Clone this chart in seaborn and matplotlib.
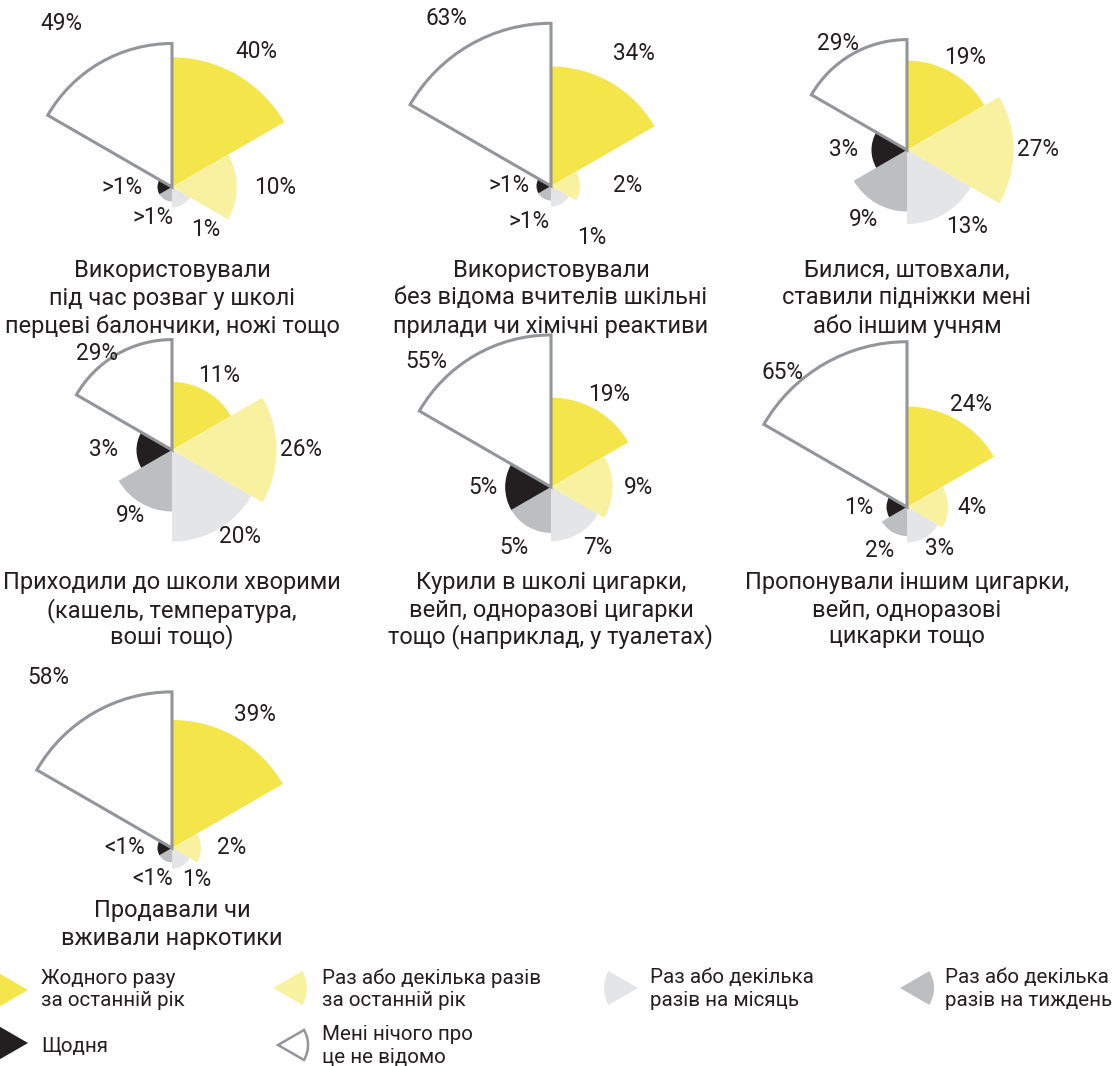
import numpy as np
import pandas as pd
import matplotlib
matplotlib.use("Agg")
import matplotlib.pyplot as plt
from matplotlib.patches import Wedge
import seaborn as sns

# ---------------- data ----------------
categories = [
    "Жодного разу за останній рік",
    "Раз або декілька разів за останній рік",
    "Раз або декілька разів на місяць",
    "Раз або декілька разів на тиждень",
    "Щодня",
    "Мені нічого про це не відомо",
]
legend_lines = [
    ["Жодного разу", "за останній рік"],
    ["Раз або декілька разів", "за останній рік"],
    ["Раз або декілька", "разів на місяць"],
    ["Раз або декілька", "разів на тиждень"],
    ["Щодня"],
    ["Мені нічого про", "це не відомо"],
]
colors = ["#F4E64A", "#F8F2A0", "#E4E5E6", "#BDBEC0", "#231F20", "#FFFFFF"]

titles = [
    ["Використовували", "під час розваг у школі", "перцеві балончики, ножі тощо"],
    ["Використовували", "без відома вчителів шкільні", "прилади чи хімічні реактиви"],
    ["Билися, штовхали,", "ставили підніжки мені", "або іншим учням"],
    ["Приходили до школи хворими", "(кашель, температура,", "воші тощо)"],
    ["Курили в школі цигарки,", "вейп, одноразові цигарки", "тощо (наприклад, у туалетах)"],
    ["Пропонували іншим цигарки,", "вейп, одноразові", "цикарки тощо"],
    ["Продавали чи", "вживали наркотики"],
]

values_1 = [40, 10, 1, 0.5, 0.5, 49]
values_2 = [34, 2, 1, 0.5, 0.5, 63]
values_3 = [19, 27, 13, 9, 3, 29]
values_4 = [11, 26, 20, 9, 3, 29]
values_5 = [19, 9, 7, 5, 5, 55]
values_6 = [24, 4, 3, 2, 1, 65]
values_7 = [39, 2, 1, 0.5, 0.5, 58]

labels_1 = ["40%", "10%", "1%", ">1%", ">1%", "49%"]
labels_2 = ["34%", "2%", "1%", ">1%", ">1%", "63%"]
labels_3 = ["19%", "27%", "13%", "9%", "3%", "29%"]
labels_4 = ["11%", "26%", "20%", "9%", "3%", "29%"]
labels_5 = ["19%", "9%", "7%", "5%", "5%", "55%"]
labels_6 = ["24%", "4%", "3%", "2%", "1%", "65%"]
labels_7 = ["39%", "2%", "1%", "<1%", "<1%", "58%"]

all_values = [values_1, values_2, values_3, values_4, values_5, values_6, values_7]
all_labels = [labels_1, labels_2, labels_3, labels_4, labels_5, labels_6, labels_7]

# ---------------- layout / style ----------------
W, H = 1116, 1066
DPI = 100
K = 20.5          # px per sqrt(%)
RMAX = 9.0        # radial axis limit in sqrt(%)
S = 2 * RMAX * K  # axes size, px

centers = [(172, 187), (551, 186), (907, 150),
           (172, 450), (551, 487), (907, 507),
           (172, 848)]
title_y = [[270, 298, 326]] * 3 + [[583, 611, 637]] * 3 + [[910, 938]]

# label placement: direction (deg, clockwise from north) and gap beyond wedge (px)
label_dir = [32, 90, 142, 212, 270, 325]
white_label_dir = [326, 328, 327, 322, 315, 317, 324]
label_gap = [
    [30, 38, 34, 21, 35, 54],
    [37, 48, 45, 27, 27, 35],
    [20, 24, 23, 20, 28, 16],
    [20, 24, 18, 16, 33, 12],
    [20, 26, 22, 25, 22, 25],
    [20, 24, 17, 22, 28, 18],
    [29, 31, 19, 22, 33, 55],
]
TEXT = "#231F20"
OUTLINE = "#939598"
FS_LABEL = 16.3
FS_TITLE = 17
FS_LEGEND = 14.8

sns.set_theme(style="white")
plt.rcParams["font.family"] = ["Roboto", "DejaVu Sans"]

fig = plt.figure(figsize=(W / DPI, H / DPI), dpi=DPI)
fig.patch.set_facecolor("white")

thetas = np.deg2rad(np.arange(30, 360, 60))

for i, (vals, labs) in enumerate(zip(all_values, all_labels)):
    cx, cy = centers[i]
    ax = fig.add_axes([(cx - S / 2) / W, (H - cy - S / 2) / H, S / W, S / H],
                      projection="polar")
    ax.set_theta_zero_location("N")
    ax.set_theta_direction(-1)
    df = pd.DataFrame({"theta": thetas, "radius": np.sqrt(vals),
                       "category": categories})
    sns.barplot(data=df, x="theta", y="radius", hue="category",
                hue_order=categories, palette=colors, native_scale=True,
                width=1.0, dodge=False, errorbar=None, legend=False,
                saturation=1, orient="x", linewidth=0, ax=ax)
    for p in ax.patches:
        fc = p.get_facecolor()
        if fc[0] > 0.99 and fc[1] > 0.99 and fc[2] > 0.99:
            p.set_edgecolor(OUTLINE)
            p.set_linewidth(2.2)
            p.set_zorder(3)
    ax.set_ylim(0, RMAX)
    ax.set_xlabel("")
    ax.set_ylabel("")
    ax.set_axis_off()
    ax.patch.set_alpha(0)

    for j, (v, lab) in enumerate(zip(vals, labs)):
        a = np.deg2rad(white_label_dir[i] if j == 5 else label_dir[j])
        d = label_gap[i][j] * 72 / DPI
        ax.annotate(lab, xy=(a, np.sqrt(v)),
                    xytext=(d * np.sin(a), d * np.cos(a)),
                    textcoords="offset points", ha="center", va="center",
                    fontsize=FS_LABEL, color=TEXT, annotation_clip=False)

    for line, y in zip(titles[i], title_y[i]):
        fig.text(cx / W, 1 - y / H, line, ha="center", va="center",
                 fontsize=FS_TITLE, color=TEXT)

# ---------------- legend ----------------
lax = fig.add_axes([0, 0, 1, 126 / H])
lax.set_xlim(0, W)
lax.set_ylim(H, H - 126)
lax.set_axis_off()
lax.patch.set_alpha(0)

icon_apex = [(28, 990), (273, 988), (638, 988), (900, 988), (28, 1043), (278, 1045)]
icon_open_right = [False, True, False, True, False, True]
text_x = [41, 322, 650, 945, 41, 322]
text_y = [[978, 1001], [978, 1001], [978, 1001], [978, 1001], [1046], [1035, 1057]]

for j in range(6):
    ax_, ay_ = icon_apex[j]
    t1, t2 = (-30, 30) if icon_open_right[j] else (150, 210)
    if colors[j] == "#FFFFFF":
        w = Wedge((ax_, ay_), 30, t1, t2, facecolor="white",
                  edgecolor=OUTLINE, linewidth=1.8)
    else:
        w = Wedge((ax_, ay_), 34, t1, t2, facecolor=colors[j], edgecolor="none")
    lax.add_patch(w)
    for line, y in zip(legend_lines[j], text_y[j]):
        lax.text(text_x[j], y, line, ha="left", va="center",
                 fontsize=FS_LEGEND, color=TEXT)

fig.savefig("out.png", dpi=DPI, facecolor="white")
